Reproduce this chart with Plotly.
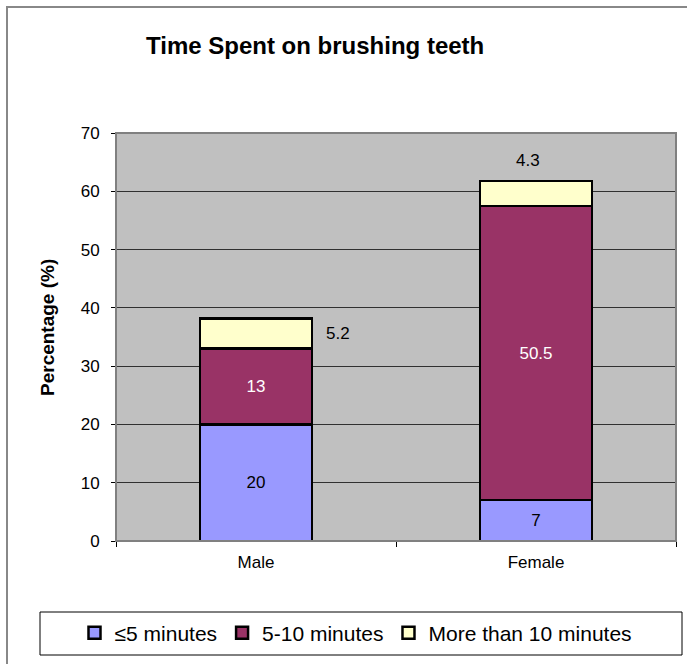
import plotly.graph_objects as go

# Survey results: share of respondents by brushing time
genders = ["Male", "Female"]
series_names = ["≤5 minutes", "5-10 minutes", "More than 10 minutes"]
under_5 = [20, 7]
between_5_10 = [13, 50.5]
over_10 = [5.2, 4.3]
y_ticks = [0, 10, 20, 30, 40, 50, 60, 70]

colors = ["#9999FF", "#993366", "#FFFFCC"]
label_colors = ["black", "white", "black"]
FONT = "Liberation Sans, Arial"

W, H = 687, 664
L, R, T, B = 116, 11, 133, 123
pw, ph = W - L - R, H - T - B


def px(x):
    return (x - L) / pw


def py(y):
    return (H - B - y) / ph


fig = go.Figure()
for name, vals, col, tcol in zip(series_names, [under_5, between_5_10, over_10], colors, label_colors):
    show_text = name != series_names[-1]
    fig.add_trace(go.Bar(
        name=name, x=genders, y=vals,
        marker=dict(color=col, line=dict(color="black", width=2.5)),
        text=[str(v) for v in vals] if show_text else None,
        textposition="inside" if show_text else "none",
        insidetextanchor="middle",
        textfont=dict(family=FONT, size=17, color=tcol),
        hoverinfo="skip",
    ))

# labels for the thin top segments, placed beside / above the bars
fig.add_annotation(x=genders[0], y=under_5[0] + between_5_10[0] + over_10[0] / 2,
                   text=str(over_10[0]), showarrow=False, xshift=82,
                   font=dict(family=FONT, size=17, color="black"))
female_top = under_5[1] + between_5_10[1] + over_10[1]
fig.add_annotation(x=genders[1], y=female_top, text=str(over_10[1]), showarrow=False,
                   yshift=20, xshift=-8,
                   font=dict(family=FONT, size=17, color="black"))

# chart title and y-axis title
fig.add_annotation(xref="paper", yref="paper", x=px(315), y=py(45),
                   text="<b>Time Spent on brushing teeth</b>", showarrow=False,
                   xanchor="center", yanchor="middle",
                   font=dict(family=FONT, size=24, color="black"))
fig.add_annotation(xref="paper", yref="paper", x=px(47), y=py(328),
                   text="<b>Percentage (%)</b>", showarrow=False, textangle=-90,
                   xanchor="center", yanchor="middle",
                   font=dict(family=FONT, size=19, color="black"))

shapes = [
    # outer chart frame (left and top edges visible)
    dict(type="rect", xref="paper", yref="paper", x0=px(7), y0=py(700), x1=px(720), y1=py(7),
         line=dict(color="#888888", width=2), fillcolor="rgba(0,0,0,0)", layer="below"),
    # plot area frame
    dict(type="rect", xref="paper", yref="paper", x0=0, y0=0, x1=1, y1=1,
         line=dict(color="#808080", width=2), fillcolor="rgba(0,0,0,0)", layer="above"),
    # legend frame
    dict(type="rect", xref="paper", yref="paper", x0=px(40), y0=py(655), x1=px(682), y1=py(612),
         line=dict(color="black", width=1), fillcolor="white", layer="below"),
]

fig.update_layout(
    width=W, height=H,
    margin=dict(l=L, r=R, t=T, b=B, autoexpand=False),
    paper_bgcolor="white", plot_bgcolor="#C0C0C0",
    barmode="stack", bargap=0.6,
    font=dict(family=FONT, size=17, color="black"),
    shapes=shapes,
    showlegend=True,
    legend=dict(orientation="h", x=px(356), y=py(633), xanchor="center", yanchor="middle",
                bgcolor="rgba(0,0,0,0)", borderwidth=0, traceorder="normal",
                font=dict(family=FONT, size=21, color="black"),
                itemwidth=30),
)
fig.update_xaxes(type="category", showgrid=False, ticks="outside", tickson="boundaries",
                 ticklen=5, tickcolor="black", showline=True, linecolor="black", linewidth=1,
                 tickfont=dict(size=17), ticklabelstandoff=6, fixedrange=True)
fig.update_yaxes(range=[0, 70], tickvals=y_ticks, showgrid=True, gridcolor="#303030", gridwidth=1,
                 ticks="outside", ticklen=4, tickcolor="black", showline=True, linecolor="black",
                 linewidth=1, tickfont=dict(size=17), ticklabelstandoff=8, zeroline=False,
                 fixedrange=True)

fig.write_html("out.html")
